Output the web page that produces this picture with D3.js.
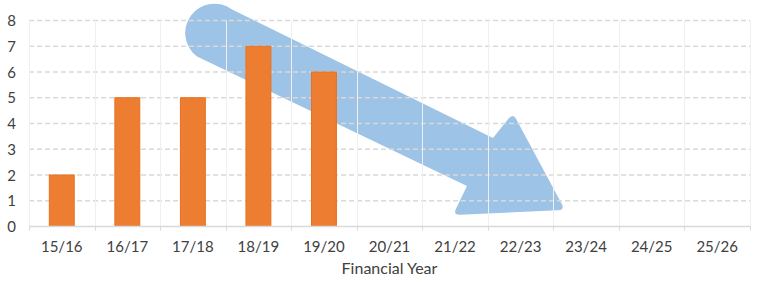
<!DOCTYPE html>
<html>
<head>
<meta charset="utf-8">
<script src="https://cdn.jsdelivr.net/npm/d3@7"></script>
<style>
  html, body { margin: 0; padding: 0; background: #ffffff; }
  svg { display: block; font-family: Lato, "Open Sans", sans-serif; }
</style>
</head>
<body>
<svg id="chart" width="764" height="282"></svg>
<script>
// ---- Data ----
const categories = ["15/16", "16/17", "17/18", "18/19", "19/20", "20/21", "21/22", "22/23", "23/24", "24/25", "25/26"];
const values = [2, 5, 5, 7, 6, null, null, null, null, null, null];
const yTicks = [0, 1, 2, 3, 4, 5, 6, 7, 8];
const xAxisTitle = "Financial Year";
// Trend arrow annotation, in data units (x: category-index position 0..11, y: value)
const arrowTail = [[3.098, 8.427], [2.563, 6.602]];   // upper and lower tail tangent points
const arrowBody = [[7.079, 3.437], [7.384, 4.408], [8.177, 0.641], [6.468, 0.447], [6.682, 1.573]];

// ---- Layout ----
const svg = d3.select("#chart");
const plotLeft = 29, plotRight = 750, plotTop = 20.5, plotBottom = 226.5;

const x = d3.scaleBand().domain(categories).range([plotLeft, plotRight]).paddingInner(0).paddingOuter(0);
const xLin = d3.scaleLinear().domain([0, categories.length]).range([plotLeft, plotRight]);
const y = d3.scaleLinear().domain([0, 8]).range([plotBottom, plotTop]);

// ---- Arrow (behind grid) ----
function pt(p) { return [xLin(p[0]), y(p[1])]; }
const U = pt(arrowTail[0]), L = pt(arrowTail[1]);
const body = arrowBody.map(pt);
function roundedCorner(path, A, P, B, r) {
  const da = Math.hypot(A[0]-P[0], A[1]-P[1]);
  const db = Math.hypot(B[0]-P[0], B[1]-P[1]);
  const p1 = [P[0] + (A[0]-P[0]) * r / da, P[1] + (A[1]-P[1]) * r / da];
  const p2 = [P[0] + (B[0]-P[0]) * r / db, P[1] + (B[1]-P[1]) * r / db];
  path.lineTo(p1[0], p1[1]);
  path.quadraticCurveTo(P[0], P[1], p2[0], p2[1]);
}
const ap = d3.path();
ap.moveTo(U[0], U[1]);
ap.lineTo(body[0][0], body[0][1]);
roundedCorner(ap, body[0], body[1], body[2], 7);
roundedCorner(ap, body[1], body[2], body[3], 7);
roundedCorner(ap, body[2], body[3], body[4], 7);
ap.lineTo(body[4][0], body[4][1]);
ap.lineTo(L[0], L[1]);
const tcx = (U[0] + L[0]) / 2, tcy = (U[1] + L[1]) / 2;
const tr = Math.hypot(U[0] - L[0], U[1] - L[1]) / 2;
const a0 = Math.atan2(L[1] - tcy, L[0] - tcx);
ap.arc(tcx, tcy, tr, a0, a0 + Math.PI, false);
ap.closePath();
svg.append("path").attr("d", ap.toString()).attr("fill", "#9dc3e6");

// ---- Grid ----
const grid = svg.append("g");
grid.selectAll("line.h").data(yTicks.filter(d => d > 0)).join("line")
  .attr("x1", plotLeft).attr("x2", plotRight)
  .attr("y1", d => y(d)).attr("y2", d => y(d))
  .attr("stroke", "#d9d9d9").attr("stroke-width", 1.3).attr("stroke-dasharray", "5,3");
const bounds = d3.range(categories.length + 1).map(i => xLin(i));
grid.selectAll("line.v").data(bounds).join("line")
  .attr("x1", d => Math.round(d) + 0.5).attr("x2", d => Math.round(d) + 0.5)
  .attr("y1", plotTop).attr("y2", plotBottom)
  .attr("stroke", "#efefef").attr("stroke-width", 1);

// ---- Bars ----
const bw = x.bandwidth() * 0.38;
svg.append("g").selectAll("rect").data(categories.map((c, i) => ({c, v: values[i]})).filter(d => d.v != null))
  .join("rect")
  .attr("x", d => x(d.c) + (x.bandwidth() - bw) / 2)
  .attr("y", d => y(d.v))
  .attr("width", bw)
  .attr("height", d => y(0) - y(d.v))
  .attr("fill", "#ed7d31")
  .attr("stroke", "#e8701f").attr("stroke-width", 1);

// ---- X axis ----
const xAxis = svg.append("g").attr("transform", `translate(0,${plotBottom})`);
xAxis.append("line").attr("x1", plotLeft).attr("x2", plotRight).attr("y1", 0).attr("y2", 0)
  .attr("stroke", "#d9d9d9").attr("stroke-width", 1.5);
xAxis.selectAll("line.tick").data(bounds).join("line")
  .attr("x1", d => Math.round(d) + 0.5).attr("x2", d => Math.round(d) + 0.5)
  .attr("y1", 0).attr("y2", 4).attr("stroke", "#d9d9d9").attr("stroke-width", 1);
xAxis.selectAll("text").data(categories).join("text")
  .attr("x", d => x(d) + x.bandwidth() / 2)
  .attr("y", 25)
  .attr("text-anchor", "middle")
  .attr("fill", "#404040").attr("font-size", 15)
  .text(d => d);

// ---- Y axis labels ----
svg.append("g").selectAll("text").data(yTicks).join("text")
  .attr("x", 16).attr("y", d => y(d) + 5.5)
  .attr("text-anchor", "end")
  .attr("fill", "#404040").attr("font-size", 15)
  .text(d => d);

// ---- Axis title ----
svg.append("text").attr("x", (plotLeft + plotRight) / 2).attr("y", 274)
  .attr("text-anchor", "middle").attr("fill", "#404040").attr("font-size", 16)
  .text(xAxisTitle);
</script>
</body>
</html>
